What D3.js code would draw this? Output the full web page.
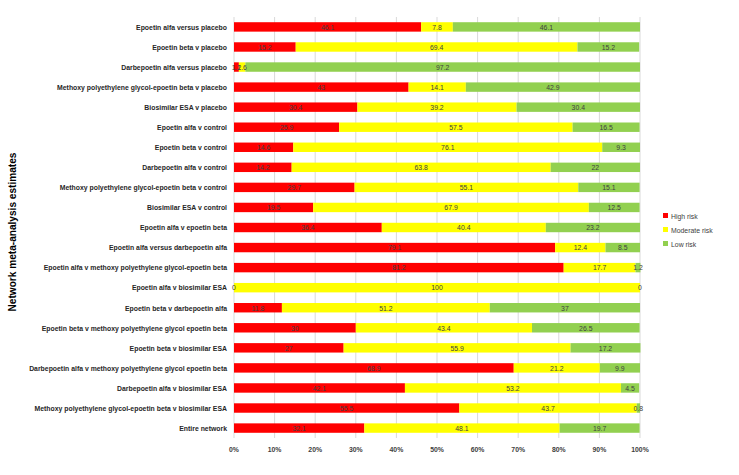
<!DOCTYPE html>
<html><head><meta charset="utf-8">
<script src="https://cdn.jsdelivr.net/npm/d3@7"></script>
<style>body{margin:0;background:#fff}svg{display:block}</style>
</head><body>
<script>
const categories = [
  "Epoetin alfa versus placebo",
  "Epoetin beta v placebo",
  "Darbepoetin alfa versus placebo",
  "Methoxy polyethylene glycol-epoetin beta v placebo",
  "Biosimilar ESA v placebo",
  "Epoetin alfa v control",
  "Epoetin beta v control",
  "Darbepoetin alfa v control",
  "Methoxy polyethylene glycol-epoetin beta v control",
  "Biosimilar ESA v control",
  "Epoetin alfa v epoetin beta",
  "Epoetin alfa versus darbepoetin alfa",
  "Epoetin alfa v methoxy polyethylene glycol-epoetin beta",
  "Epoetin alfa v biosimilar ESA",
  "Epoetin beta v darbepoetin alfa",
  "Epoetin beta v methoxy polyethylene glycol epoetin beta",
  "Epoetin beta v biosimilar ESA",
  "Darbepoetin alfa v methoxy polyethylene glycol epoetin beta",
  "Darbepoetin alfa v biosimilar ESA",
  "Methoxy polyethylene glycol-epoetin beta v biosimilar ESA",
  "Entire network"
];
const highRisk =     [46.1, 15.2, 1.2, 43, 30.4, 25.9, 14.6, 14.2, 29.7, 19.5, 36.4, 79.1, 81.2, 0, 11.8, 30, 27, 68.9, 42.1, 55.5, 32.1];
const moderateRisk = [7.8, 69.4, 1.6, 14.1, 39.2, 57.5, 76.1, 63.8, 55.1, 67.9, 40.4, 12.4, 17.7, 100, 51.2, 43.4, 55.9, 21.2, 53.2, 43.7, 48.1];
const lowRisk =      [46.1, 15.2, 97.2, 42.9, 30.4, 16.5, 9.3, 22, 15.1, 12.5, 23.2, 8.5, 1.2, 0, 37, 26.5, 17.2, 9.9, 4.5, 0.8, 19.7];
const seriesNames = ["High risk", "Moderate risk", "Low risk"];
const seriesColors = ["#FF0000", "#FFFF00", "#92D050"];
const xTicks = [0, 10, 20, 30, 40, 50, 60, 70, 80, 90, 100];
const yTitle = "Network meta-analysis estimates";

const W = 739, H = 475;
const margin = {left: 234, right: 99, top: 17, bottom: 37};
const svg = d3.select("body").append("svg").attr("width", W).attr("height", H);

const x = d3.scaleLinear().domain([0, 100]).range([margin.left, W - margin.right]);
const y = d3.scaleBand().domain(categories).range([margin.top, H - margin.bottom]).paddingInner(0.53).paddingOuter(0.26);

const font = "Liberation Sans, Arial, sans-serif";
const sx = 0.86;

// gridlines
svg.append("g").selectAll("line").data(xTicks).join("line")
  .attr("x1", d => x(d)).attr("x2", d => x(d))
  .attr("y1", margin.top).attr("y2", H - margin.bottom)
  .attr("stroke", "#d9d9d9").attr("stroke-width", 1);

const stackData = categories.map((c, i) => ({cat: c, high: highRisk[i], mod: moderateRisk[i], low: lowRisk[i]}));
const stack = d3.stack().keys(["high", "mod", "low"])(stackData);

const g = svg.append("g");
stack.forEach((layer, si) => {
  g.append("g").selectAll("rect").data(layer).join("rect")
    .attr("x", d => x(d[0]))
    .attr("width", d => x(d[1]) - x(d[0]))
    .attr("y", d => y(d.data.cat))
    .attr("height", y.bandwidth())
    .attr("fill", seriesColors[si]);
});
stack.forEach((layer, si) => {
  g.append("g").selectAll("text").data(layer).join("text")
    .attr("transform", d => `translate(${x((d[0] + d[1]) / 2)},${y(d.data.cat) + y.bandwidth() / 2}) scale(${sx},1)`)
    .attr("dy", "0.35em")
    .attr("text-anchor", "middle")
    .attr("font-family", font)
    .attr("font-size", 8)
    .attr("fill", "#404040")
    .text(d => d.data[layer.key]);
});

// category labels
svg.append("g").selectAll("text").data(categories).join("text")
  .attr("transform", d => `translate(${margin.left - 7},${y(d) + y.bandwidth() / 2}) scale(${sx},1)`)
  .attr("dy", "0.35em")
  .attr("text-anchor", "end")
  .attr("font-family", font)
  .attr("font-weight", "bold")
  .attr("font-size", 8)
  .attr("fill", "#262626")
  .text(d => d);

// x axis labels
svg.append("g").selectAll("text").data(xTicks).join("text")
  .attr("transform", d => `translate(${x(d)},${H - margin.bottom + 14}) scale(${sx},1)`)
  .attr("text-anchor", "middle")
  .attr("font-family", font)
  .attr("font-weight", "bold")
  .attr("font-size", 8)
  .attr("fill", "#404040")
  .text(d => d + "%");

// y title
svg.append("text")
  .attr("transform", `translate(16,${232}) rotate(-90) scale(0.92,1)`)
  .attr("text-anchor", "middle")
  .attr("font-family", font)
  .attr("font-weight", "bold")
  .attr("font-size", 11)
  .attr("fill", "#000")
  .text(yTitle);

// legend
const lg = svg.append("g").attr("transform", "translate(663,216)");
seriesNames.forEach((n, i) => {
  lg.append("rect").attr("x", 0).attr("y", i * 14 - 3).attr("width", 5).attr("height", 5).attr("fill", seriesColors[i]);
  lg.append("text").attr("transform", `translate(8,${i * 14}) scale(${sx},1)`).attr("dy", "0.35em")
    .attr("font-family", font).attr("font-size", 8).attr("fill", "#404040").text(n);
});
</script>
</body></html>
